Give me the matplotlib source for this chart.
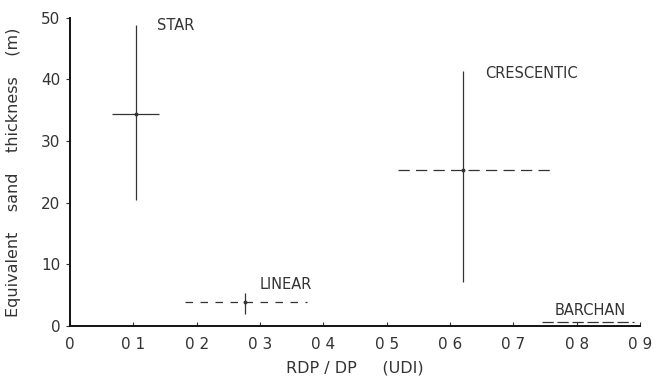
import matplotlib
matplotlib.use("Agg")
import matplotlib.pyplot as plt

# Data
dune_types = ["STAR", "LINEAR", "CRESCENTIC", "BARCHAN"]
udi_center = [0.105, 0.277, 0.620, 0.820]
udi_low = [0.067, 0.182, 0.518, 0.745]
udi_high = [0.140, 0.375, 0.763, 0.890]
thick_center = [34.4, 3.9, 25.3, 0.7]
thick_low = [20.5, 2.0, 7.2, 0.7]
thick_high = [48.9, 5.4, 41.3, 0.7]

x_ticks = [0, 0.1, 0.2, 0.3, 0.4, 0.5, 0.6, 0.7, 0.8, 0.9]
x_tick_labels = ["0", "0 1", "0 2", "0 3", "0 4", "0 5", "0 6", "0 7", "0 8", "0 9"]
y_ticks = [0, 10, 20, 30, 40, 50]

label_pos = {
    "STAR": (0.137, 47.6),
    "LINEAR": (0.300, 5.5),
    "CRESCENTIC": (0.655, 39.8),
    "BARCHAN": (0.765, 1.3),
}
h_styles = {"STAR": "-", "LINEAR": (0, (6, 6)), "CRESCENTIC": (0, (9, 5)), "BARCHAN": (0, (9, 3))}

ink = "#333333"
fig = plt.figure(figsize=(6.66, 3.8), dpi=100)
ax = fig.add_axes([0.105, 0.142, 0.856, 0.811])

for i, name in enumerate(dune_types):
    ax.hlines(thick_center[i], udi_low[i], udi_high[i], color=ink, lw=0.9,
              linestyles=[h_styles[name]])
    if thick_high[i] > thick_low[i]:
        ax.vlines(udi_center[i], thick_low[i], thick_high[i], color=ink, lw=0.9)
        ax.plot(udi_center[i], thick_center[i], marker="o", ms=1.8, color=ink)
    lx, ly = label_pos[name]
    ax.text(lx, ly, name, fontsize=10.5, color=ink, ha="left", va="bottom")

ax.set_xlim(0, 0.9)
ax.set_ylim(0, 50)
ax.set_xticks(x_ticks)
ax.set_xticklabels(x_tick_labels)
ax.set_yticks(y_ticks)
for s in ["top", "right"]:
    ax.spines[s].set_visible(False)
for s in ["left", "bottom"]:
    ax.spines[s].set_linewidth(1.4)
    ax.spines[s].set_color("#111111")
ax.tick_params(axis="x", direction="in", length=3, labelsize=11, colors=ink, pad=8)
ax.tick_params(axis="y", direction="out", length=3, labelsize=11, colors=ink, pad=4)
ax.set_xlabel("RDP / DP     (UDI)", fontsize=11.5, color=ink, labelpad=6)
ax.set_ylabel("Equivalent    sand    thickness    (m)", fontsize=11.5, color=ink, labelpad=14)

fig.savefig("out.png", dpi=100)
